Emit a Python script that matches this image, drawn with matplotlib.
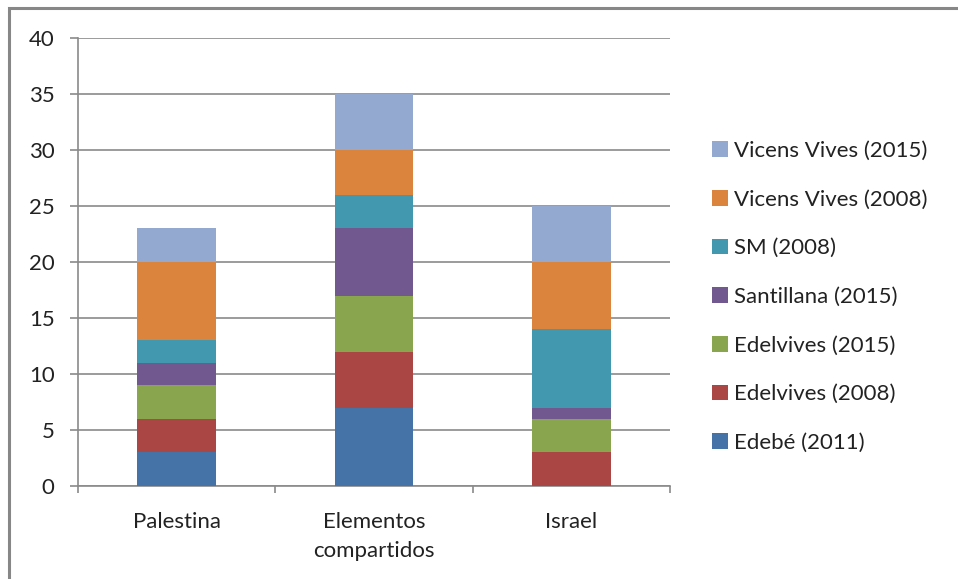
import matplotlib
matplotlib.use("Agg")
import matplotlib.pyplot as plt
from matplotlib.patches import Rectangle
import numpy as np

categories = ["Palestina", "Elementos\ncompartidos", "Israel"]
series_names = ["Edebé (2011)", "Edelvives (2008)", "Edelvives (2015)",
                "Santillana (2015)", "SM (2008)", "Vicens Vives (2008)",
                "Vicens Vives (2015)"]
edebe_2011 = [3, 7, 0]
edelvives_2008 = [3, 5, 3]
edelvives_2015 = [3, 5, 3]
santillana_2015 = [2, 6, 1]
sm_2008 = [2, 3, 7]
vicens_2008 = [7, 4, 6]
vicens_2015 = [3, 5, 5]
series_values = [edebe_2011, edelvives_2008, edelvives_2015, santillana_2015,
                 sm_2008, vicens_2008, vicens_2015]
colors = ["#4572A7", "#AA4643", "#89A54E", "#71588F", "#4198AF", "#DB843D", "#93A9CF"]
yticks = [0, 5, 10, 15, 20, 25, 30, 35, 40]

plt.rcParams['font.family'] = ['Lato', 'DejaVu Sans']
FS = 16

W, H = 958, 579
fig = plt.figure(figsize=(W / 100, H / 100), dpi=100)
ax = fig.add_axes([78 / W, (H - 486) / H, 592 / W, 448 / H])

x = np.arange(len(categories))
bottom = np.zeros(len(categories))
handles = []
for name, vals, c in zip(series_names, series_values, colors):
    b = ax.bar(x, vals, 0.4, bottom=bottom, color=c, label=name, zorder=3)
    handles.append(b)
    bottom += np.array(vals)

ax.set_xlim(-0.5, 2.5)
ax.set_ylim(0, 40)
ax.set_yticks(yticks)
ax.set_yticklabels([str(v) for v in yticks], fontsize=FS, color="#222222")
ax.yaxis.grid(True, color="#8a8a8a", linewidth=1.2, zorder=0)
ax.set_axisbelow(True)

ax.set_xticks(x)
ax.set_xticklabels(categories, fontsize=FS, color="#222222", linespacing=1.6)
ax.set_xticks([-0.5, 0.5, 1.5, 2.5], minor=True)
ax.tick_params(axis='x', which='major', length=0, pad=18.5)
ax.tick_params(axis='x', which='minor', length=5, direction='out', color="#8a8a8a", width=1.2)
ax.tick_params(axis='y', length=5.8, direction='out', color="#8a8a8a", width=1.2, pad=11)

for s in ["top", "right"]:
    ax.spines[s].set_visible(False)
for s in ["left", "bottom"]:
    ax.spines[s].set_color("#8a8a8a")
    ax.spines[s].set_linewidth(1.2)

leg = ax.legend(handles[::-1], series_names[::-1], loc='center left',
                bbox_to_anchor=(692 / W, (H - 297) / H), bbox_transform=fig.transFigure,
                frameon=False, fontsize=FS, labelspacing=1.29,
                handlelength=0.7, handleheight=0.7, handletextpad=0.3)
for t in leg.get_texts():
    t.set_color("#222222")

fig.patches.append(Rectangle((9 / W, -1), 2, 1 + (H - 8) / H - 0.0, transform=fig.transFigure,
                             fill=False, edgecolor="#878787", linewidth=2.2))

fig.savefig("out.png", dpi=100)
